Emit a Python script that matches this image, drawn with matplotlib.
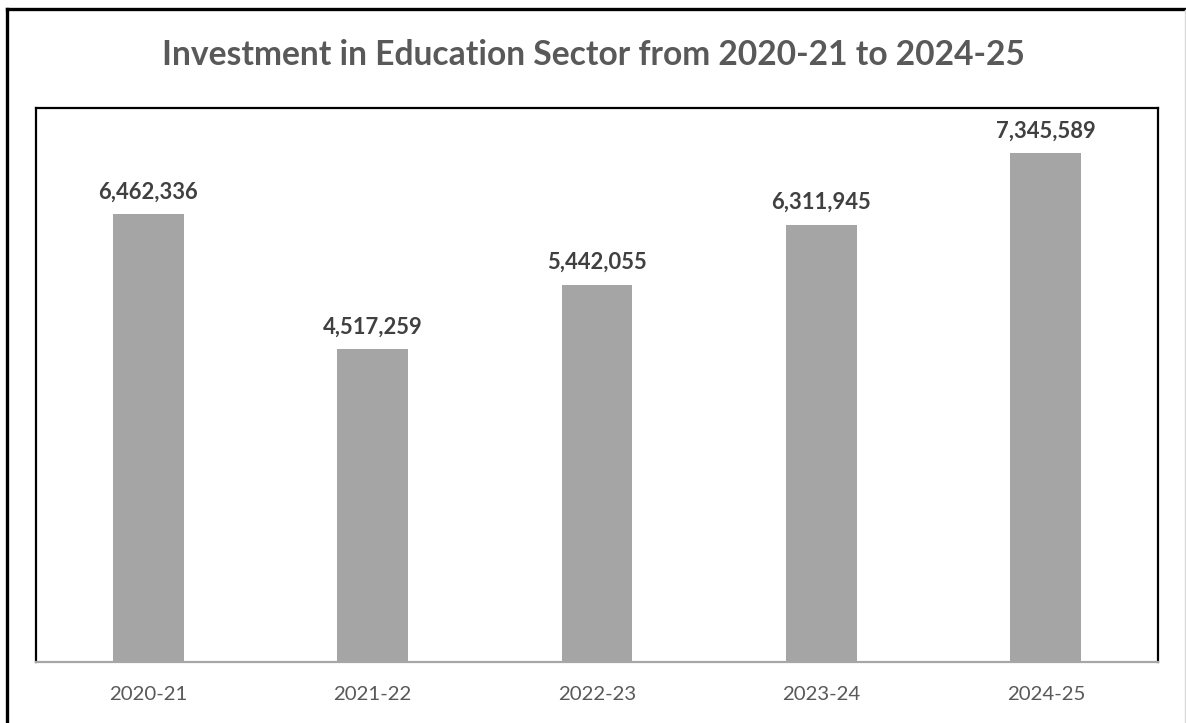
import matplotlib
matplotlib.use("Agg")
import matplotlib.pyplot as plt
from matplotlib.lines import Line2D
from matplotlib.ticker import NullLocator

categories = ["2020-21", "2021-22", "2022-23", "2023-24", "2024-25"]
investment = [6462336, 4517259, 5442055, 6311945, 7345589]
title = "Investment in Education Sector from 2020-21 to 2024-25"

plt.rcParams["font.family"] = ["Lato", "DejaVu Sans"]

W, H = 1186, 723
fig = plt.figure(figsize=(W / 100, H / 100), dpi=100)
fig.patch.set_facecolor("white")

# plot area (pixel box converted to figure fractions)
left, right, top, bottom = 36, 1158, 108, 662
ax = fig.add_axes([left / W, 1 - bottom / H, (right - left) / W, (bottom - top) / H])

x = range(len(categories))
bars = ax.bar(x, investment, width=0.316, color="#A5A5A5", zorder=2)
ax.set_xlim(-0.5, len(categories) - 0.5)
ax.set_ylim(0, 8000000)

for b, v in zip(bars, investment):
    ax.annotate(f"{v:,}", (b.get_x() + b.get_width() / 2, v),
                xytext=(0, 11.5), textcoords="offset points",
                ha="center", va="baseline", fontsize=15.8, fontweight="bold",
                color="#404040")

ax.set_xticks(list(x))
ax.set_xticklabels(categories, fontsize=14.7, color="#595959")
ax.tick_params(axis="x", length=0, pad=17.5)
ax.yaxis.set_major_locator(NullLocator())

for side in ("left", "top", "right"):
    ax.spines[side].set_color("black")
    ax.spines[side].set_linewidth(1.6)
ax.spines["bottom"].set_color("#A6A6A6")
ax.spines["bottom"].set_linewidth(1.6)

fig.text(0.5, 1 - 55 / H, title, ha="center", va="center",
         fontsize=24.2, fontweight="bold", color="#595959")

# outer frame: heavy top and left edges, faint right edge
fig.add_artist(Line2D([6.5 / W, 1], [1 - 8.5 / H] * 2, color="black", lw=2.4,
                      transform=fig.transFigure))
fig.add_artist(Line2D([6.5 / W] * 2, [0, 1 - 8.5 / H], color="black", lw=2.4,
                      transform=fig.transFigure))
fig.add_artist(Line2D([1184.5 / W] * 2, [0, 1 - 10 / H], color="#D9D9D9", lw=1.0,
                      transform=fig.transFigure))

fig.savefig("out.png", dpi=100, facecolor="white")
